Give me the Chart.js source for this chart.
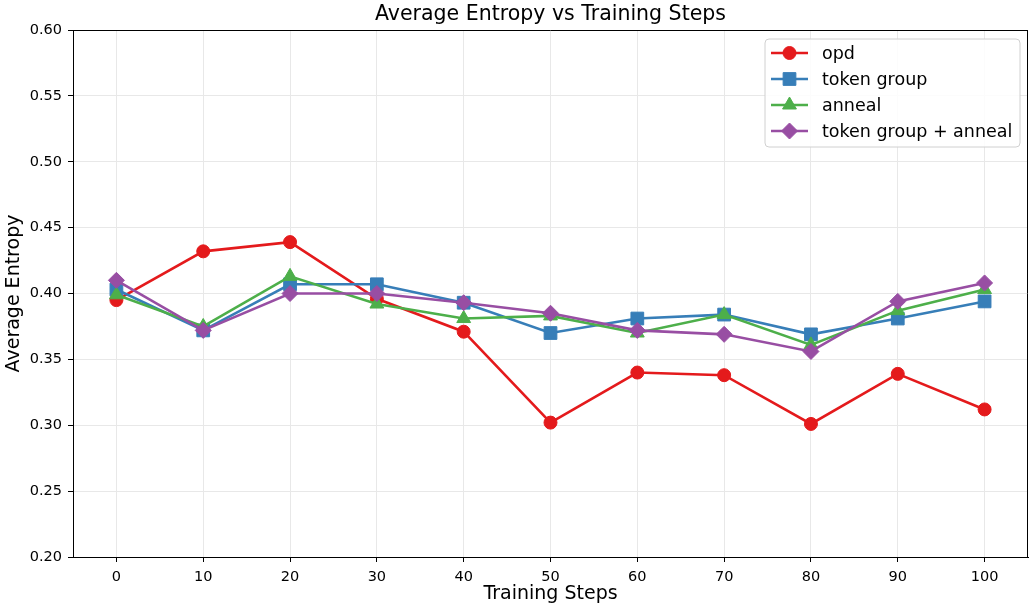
<!DOCTYPE html>
<html>
<head>
<meta charset="utf-8">
<script src="https://cdn.jsdelivr.net/npm/chart.js@4.4.1/dist/chart.umd.min.js"></script>
<style>
  html, body { margin: 0; padding: 0; background: #ffffff; }
  #wrap { width: 1029px; height: 605px; position: relative; }
</style>
</head>
<body>
<div id="wrap"><canvas id="chart" width="1029" height="605"></canvas></div>
<script>
// Training steps on the x axis
const steps = [0, 10, 20, 30, 40, 50, 60, 70, 80, 90, 100];

// Average entropy per run
const opd = [0.395, 0.432, 0.439, 0.396, 0.371, 0.302, 0.340, 0.338, 0.301, 0.339, 0.312];
const tokenGroup = [0.403, 0.372, 0.407, 0.407, 0.393, 0.370, 0.381, 0.384, 0.369, 0.381, 0.394];
const anneal = [0.399, 0.375, 0.413, 0.392, 0.381, 0.383, 0.370, 0.384, 0.361, 0.387, 0.403];
const tokenGroupAnneal = [0.410, 0.372, 0.400, 0.400, 0.393, 0.385, 0.372, 0.369, 0.356, 0.394, 0.408];

// Axis ticks
const xTicks = [0, 10, 20, 30, 40, 50, 60, 70, 80, 90, 100];
const yTicks = [0.20, 0.25, 0.30, 0.35, 0.40, 0.45, 0.50, 0.55, 0.60];

const seriesNames = ['opd', 'token group', 'anneal', 'token group + anneal'];
const seriesColors = ['#e41a1c', '#377eb8', '#4daf4a', '#984ea3'];
const seriesMarkers = ['circle', 'rect', 'triangle', 'rectRot'];
const markerRadius = [6.5, 9, 8, 8];
const seriesValues = [opd, tokenGroup, anneal, tokenGroupAnneal];

const FONT = "'DejaVu Sans', sans-serif";

const datasets = seriesValues.map((vals, i) => ({
  label: seriesNames[i],
  data: steps.map((s, j) => ({ x: s, y: vals[j] })),
  borderColor: seriesColors[i],
  backgroundColor: seriesColors[i],
  borderWidth: 2.6,
  pointStyle: seriesMarkers[i],
  pointRadius: markerRadius[i],
  pointBorderWidth: 1,
  pointBorderColor: seriesColors[i],
  pointBackgroundColor: seriesColors[i],
  tension: 0,
  order: seriesValues.length - 1 - i
}));

// Top and right frame lines plus the boxed legend in the upper right
const framePlugin = {
  id: 'frame',
  afterDraw(chart) {
    const { ctx, chartArea: a } = chart;
    ctx.save();
    ctx.strokeStyle = '#000000';
    ctx.lineWidth = 1;
    ctx.beginPath();
    ctx.moveTo(a.left, a.top + 0.5);
    ctx.lineTo(a.right, a.top + 0.5);
    ctx.moveTo(a.right - 0.5, a.top);
    ctx.lineTo(a.right - 0.5, a.bottom);
    ctx.stroke();

    // legend
    const bx = 765, by = 39, bw = 255, bh = 108, r = 4;
    ctx.beginPath();
    ctx.moveTo(bx + r, by);
    ctx.lineTo(bx + bw - r, by);
    ctx.quadraticCurveTo(bx + bw, by, bx + bw, by + r);
    ctx.lineTo(bx + bw, by + bh - r);
    ctx.quadraticCurveTo(bx + bw, by + bh, bx + bw - r, by + bh);
    ctx.lineTo(bx + r, by + bh);
    ctx.quadraticCurveTo(bx, by + bh, bx, by + bh - r);
    ctx.lineTo(bx, by + r);
    ctx.quadraticCurveTo(bx, by, bx + r, by);
    ctx.closePath();
    ctx.fillStyle = 'rgba(255,255,255,0.85)';
    ctx.fill();
    ctx.strokeStyle = '#d0d0d0';
    ctx.stroke();

    seriesNames.forEach((name, i) => {
      const y = 53 + i * 26;
      ctx.strokeStyle = seriesColors[i];
      ctx.lineWidth = 2.6;
      ctx.beginPath();
      ctx.moveTo(771, y);
      ctx.lineTo(808, y);
      ctx.stroke();
      ctx.fillStyle = seriesColors[i];
      ctx.lineWidth = 1;
      Chart.helpers.drawPoint(ctx, {
        pointStyle: seriesMarkers[i],
        radius: markerRadius[i],
        rotation: 0,
        borderWidth: 1
      }, 789.5, y);
      ctx.fillStyle = '#000000';
      ctx.font = "17.5px " + FONT;
      ctx.textAlign = 'left';
      ctx.textBaseline = 'middle';
      ctx.fillText(name, 822, y + 1);
    });
    ctx.restore();
  }
};

new Chart(document.getElementById('chart'), {
  type: 'line',
  data: { datasets },
  options: {
    responsive: false,
    animation: false,
    layout: { autoPadding: false, padding: { left: 0, right: 1, top: 0, bottom: 0 } },
    plugins: {
      legend: { display: false },
      tooltip: { enabled: false },
      title: {
        display: true,
        fullSize: false,
        text: 'Average Entropy vs Training Steps',
        color: '#000000',
        font: { family: FONT, size: 20.5, weight: 'normal' },
        padding: { top: 2, bottom: 3.4 }
      }
    },
    scales: {
      x: {
        type: 'linear',
        min: -5,
        max: 105,
        afterBuildTicks(scale) { scale.ticks = xTicks.map(v => ({ value: v })); },
        afterFit(scale) { scale.height = 48; },
        ticks: {
          color: '#000000',
          font: { family: FONT, size: 14.5 },
          padding: 7,
          maxRotation: 0,
          callback: v => String(v)
        },
        grid: { color: '#e8e8e8', lineWidth: 1, tickColor: '#000000', tickLength: 5 },
        border: { display: true, color: '#000000', width: 1 },
        title: {
          display: true,
          text: 'Training Steps',
          color: '#000000',
          font: { family: FONT, size: 19 },
          padding: { top: 0, bottom: 0 }
        }
      },
      y: {
        type: 'linear',
        min: 0.2,
        max: 0.6,
        afterBuildTicks(scale) { scale.ticks = yTicks.map(v => ({ value: v })); },
        afterFit(scale) { scale.width = 73; },
        ticks: {
          color: '#000000',
          font: { family: FONT, size: 14.5 },
          padding: 6,
          callback: v => Number(v).toFixed(2)
        },
        grid: { color: '#e8e8e8', lineWidth: 1, tickColor: '#000000', tickLength: 5 },
        border: { display: true, color: '#000000', width: 1 },
        title: {
          display: true,
          text: 'Average Entropy',
          color: '#000000',
          font: { family: FONT, size: 19 },
          padding: { top: 3, bottom: 0 }
        }
      }
    }
  },
  plugins: [framePlugin]
});
</script>
</body>
</html>
